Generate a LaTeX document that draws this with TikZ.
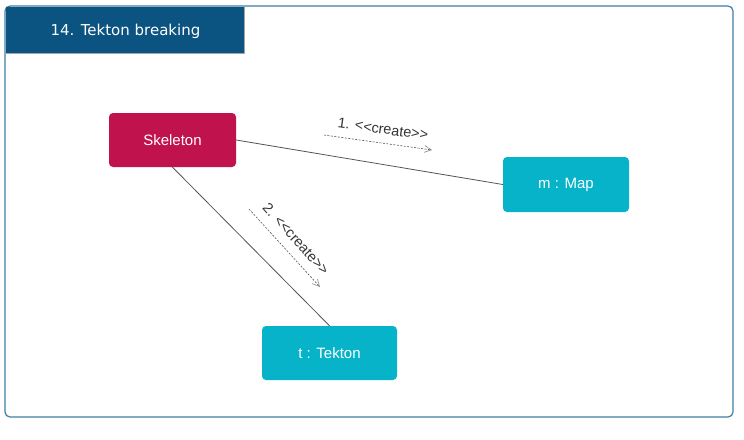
\documentclass[tikz,border=0pt]{standalone}
\usepackage{fontspec}
\setmainfont{Liberation Sans}
\newfontfamily\titlefont{DejaVu Sans}
\usetikzlibrary{arrows.meta}
\definecolor{frameblue}{HTML}{3D7EA6}
\definecolor{titleblue}{HTML}{0B5380}
\definecolor{skelred}{HTML}{C0134E}
\definecolor{objcyan}{HTML}{07B3C8}
\definecolor{linegrey}{HTML}{555555}
\definecolor{labelgrey}{HTML}{333333}
\definecolor{tipgrey}{HTML}{888888}
\tikzset{
  objbox/.style={draw=none, rounded corners=4pt, text=white, font=\fontsize{15}{17}\selectfont, inner sep=0pt},
  link/.style={draw=linegrey, line width=0.8pt},
  msg/.style={draw=linegrey, dashed, dash pattern=on 2pt off 1.5pt, line width=0.6pt, -{Straight Barb[length=7pt,width=7pt,color=tipgrey]}},
  msglabel/.style={text=labelgrey, font=\fontsize{14.4}{16}\selectfont, inner sep=0pt}
}
\begin{document}
\begin{tikzpicture}[x=1pt,y=-1pt]
\useasboundingbox (0,0) rectangle (744,439);
% frame
\draw[frameblue, line width=1.2pt, rounded corners=5pt] (5,6) rectangle (733,417);
\fill[titleblue] (5.6,6.6) rectangle (244,53);
\draw[gray!70, line width=0.8pt] (244,7) -- (244,53) -- (6,53);
\node[text=white, font=\titlefont\fontsize{15}{17}\selectfont] (title) at (125.5,31) {14. Tekton breaking};
% nodes
\node[objbox, fill=skelred, minimum width=127pt, minimum height=54pt] (sk) at (172.5,140) {Skeleton};
\node[objbox, fill=objcyan, minimum width=126pt, minimum height=55pt] (map) at (566,184.5) {m : Map};
\node[objbox, fill=objcyan, minimum width=135pt, minimum height=54pt] (tk) at (329.5,353) {t : Tekton};
% links
\draw[link] (sk.east) -- (map.west);
\draw[link] (sk.south) -- (tk.north);
% messages
\coordinate (m1a) at (324,135);
\coordinate (m1b) at (432,150);
\draw[msg] (m1a) -- (m1b);
\node[msglabel, rotate=-8] (l1) at (383,129) {1. {<}{<}create{>}{>}};
\coordinate (m2a) at (249,209);
\coordinate (m2b) at (320,287);
\draw[msg] (m2a) -- (m2b);
\node[msglabel, rotate=-48] (l2) at (296,239) {2. {<}{<}create{>}{>}};
\end{tikzpicture}
\end{document}
